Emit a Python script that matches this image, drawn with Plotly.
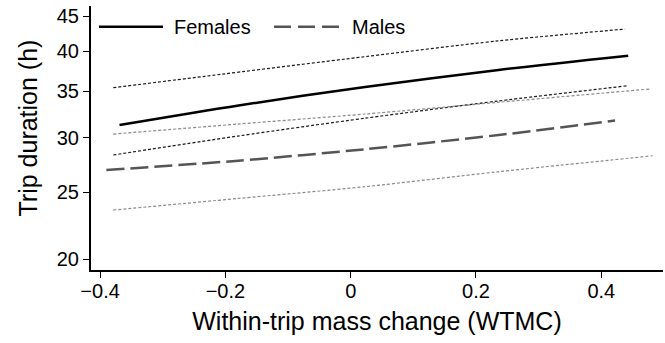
import plotly.graph_objects as go

# ---- data ----
female_x = [-0.369, -0.179, 0.023, 0.236, 0.443]
female_mean = [31.28, 33.39, 35.52, 37.60, 39.42]

female_upper_x = [-0.379, -0.233, 0.023, 0.235, 0.438]
female_upper = [35.43, 36.80, 39.30, 41.42, 43.09]

female_lower_x = [-0.379, -0.180, 0.023, 0.235, 0.443]
female_lower = [28.30, 30.15, 32.00, 33.89, 35.67]

male_x = [-0.390, -0.179, 0.023, 0.236, 0.422]
male_mean = [26.92, 27.77, 28.85, 30.25, 31.75]

male_upper_x = [-0.379, -0.180, 0.023, 0.235, 0.478]
male_upper = [30.35, 31.38, 32.45, 33.74, 35.28]

male_lower_x = [-0.379, -0.180, 0.023, 0.235, 0.482]
male_lower = [23.55, 24.48, 25.46, 26.76, 28.23]

x_ticks = [-0.4, -0.2, 0, 0.2, 0.4]
x_ticktext = ["\u22120.4", "\u22120.2", "0", "0.2", "0.4"]
y_ticks = [20, 25, 30, 35, 40, 45]

FONT = "Liberation Sans, Arial, Helvetica, sans-serif"

fig = go.Figure()

def add(x, y, color, width, dash):
    fig.add_trace(go.Scatter(x=x, y=y, mode="lines", showlegend=False,
                             line=dict(color=color, width=width, dash=dash,
                                       shape="spline", smoothing=0.8),
                             hoverinfo="skip"))

add(female_upper_x, female_upper, "#1a1a1a", 1.2, "3px,2px")
add(female_lower_x, female_lower, "#1a1a1a", 1.2, "3px,2px")
add(male_upper_x, male_upper, "#8a8a8a", 1.2, "3px,2px")
add(male_lower_x, male_lower, "#8a8a8a", 1.2, "3px,2px")
add(female_x, female_mean, "#000000", 2.5, "solid")
add(male_x, male_mean, "#555555", 2.5, "18px,6px")

# manual legend (paper coordinates)
def px2paper_x(px):
    return (px - 91) / 572.0

def py2paper_y(py):
    return (270 - py) / 264.0

ly = py2paper_y(26.7)
fig.add_shape(type="line", xref="paper", yref="paper",
              x0=px2paper_x(99), x1=px2paper_x(163), y0=ly, y1=ly,
              line=dict(color="#000000", width=2.5))
fig.add_shape(type="line", xref="paper", yref="paper",
              x0=px2paper_x(274), x1=px2paper_x(340), y0=ly, y1=ly,
              line=dict(color="#555555", width=2.5, dash="17px,7px"))
fig.add_annotation(text="Females", xref="paper", yref="paper",
                   x=px2paper_x(172), y=ly, xanchor="left", yanchor="middle",
                   showarrow=False, font=dict(size=20, color="#000000", family=FONT))
fig.add_annotation(text="Males", xref="paper", yref="paper",
                   x=px2paper_x(350), y=ly, xanchor="left", yanchor="middle",
                   showarrow=False, font=dict(size=20, color="#000000", family=FONT))

# y-axis title as annotation for exact placement
fig.add_annotation(text="Trip duration (h)", xref="paper", yref="paper",
                   x=px2paper_x(27), y=py2paper_y(128.5), xanchor="center",
                   yanchor="middle", textangle=-90, showarrow=False,
                   font=dict(size=25, color="#000000", family=FONT))

fig.update_layout(
    width=665, height=343,
    margin=dict(l=91, r=2, t=6, b=73),
    paper_bgcolor="white", plot_bgcolor="white",
    font=dict(family=FONT, color="#000000", size=20),
    showlegend=False,
    xaxis=dict(
        range=[-0.4145, 0.4985],
        tickvals=x_ticks, ticktext=x_ticktext,
        showgrid=False, zeroline=False,
        showline=True, linecolor="#000000", linewidth=2,
        ticks="outside", ticklen=6, tickwidth=1.2, tickcolor="#000000",
        tickfont=dict(size=20, family=FONT),
        ticklabelstandoff=-4,
        title=dict(text="Within-trip mass change (WTMC)",
                   font=dict(size=25, family=FONT), standoff=11),
    ),
    yaxis=dict(
        type="log",
        range=[1.2851, 1.6678],
        tickvals=y_ticks, ticktext=[str(v) for v in y_ticks],
        showgrid=False, zeroline=False,
        showline=True, linecolor="#000000", linewidth=2,
        ticks="outside", ticklen=6, tickwidth=1.2, tickcolor="#000000",
        tickfont=dict(size=20, family=FONT),
    ),
)

fig.write_html("out.html")
